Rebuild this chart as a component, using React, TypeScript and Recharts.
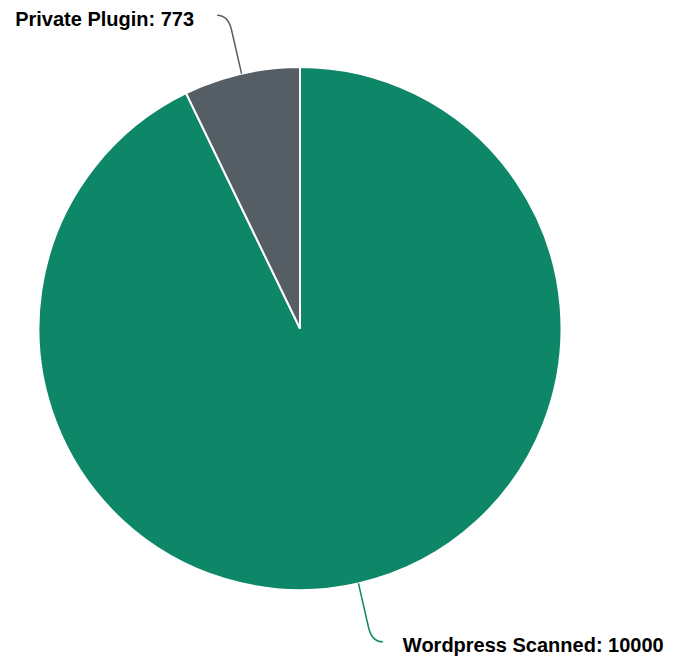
import React from 'react';
import { PieChart, Pie, Cell } from 'recharts';

const names = ['Wordpress Scanned', 'Private Plugin'];
const values = [10000, 773];
const colors = ['#0e8769', '#555d65'];

const data = names.map((name, i) => ({ name, value: values[i] }));

const RAD = Math.PI / 180;

const renderLabel = (props: any) => {
  const { cx, cy, midAngle, outerRadius, name, value, index } = props;
  const cos = Math.cos(-midAngle * RAD);
  const sin = Math.sin(-midAngle * RAD);
  const p0 = { x: cx + outerRadius * cos, y: cy + outerRadius * sin };
  const p1 = { x: cx + (outerRadius + 45) * cos, y: cy + (outerRadius + 45) * sin };
  const corner = { x: cx + (outerRadius + 60) * cos, y: cy + (outerRadius + 60) * sin };
  const right = cos >= 0;
  const end = { x: corner.x + (right ? 11 : -11), y: corner.y };
  const tx = right ? end.x + 20 : end.x - 23;
  return (
    <g>
      <path
        d={`M${p0.x},${p0.y} L${p1.x},${p1.y} Q${corner.x},${corner.y} ${end.x},${end.y}`}
        stroke={colors[index]}
        strokeWidth={1.5}
        fill="none"
      />
      <text
        x={tx}
        y={end.y + 10.5}
        textAnchor={right ? 'start' : 'end'}
        fill="#000"
        fontSize={20}
        fontWeight="bold"
        fontFamily="'Liberation Sans', Arial, sans-serif"
      >
        {`${name}: ${value}`}
      </text>
    </g>
  );
};

export default function App() {
  return (
    <div style={{ position: 'absolute', left: 0, top: 0 }}>
      <PieChart width={690} height={660} margin={{ top: 0, right: 0, bottom: 0, left: 0 }}>
        <Pie
          data={data}
          dataKey="value"
          nameKey="name"
          cx={300}
          cy={328.5}
          innerRadius={0}
          outerRadius={261.5}
          startAngle={90}
          endAngle={-270}
          stroke="#ffffff"
          strokeWidth={2}
          label={renderLabel}
          labelLine={false}
          isAnimationActive={false}
        >
          {data.map((d, i) => (
            <Cell key={d.name} fill={colors[i]} />
          ))}
        </Pie>
      </PieChart>
    </div>
  );
}
